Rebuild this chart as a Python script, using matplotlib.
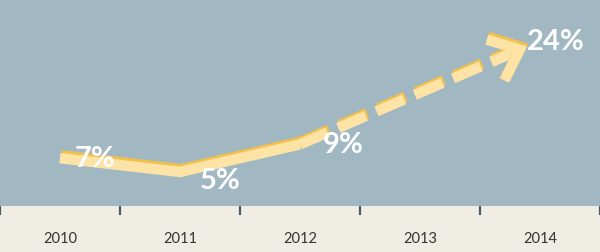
import matplotlib
matplotlib.use("Agg")
import matplotlib.pyplot as plt
import matplotlib.patheffects as pe

years = ["2010", "2011", "2012", "2013", "2014"]
actual_idx = [0, 1, 2]
actual_vals = [7, 5, 9]
target_idx = 4
target_val = 24
labels = ["7%", "5%", "9%", "24%"]

BLUE = "#a1b8c3"
BEIGE = "#efece4"
LIGHT = "#fde3a6"
DARK = "#f3c14a"
TICK = "#4b5e67"

fig = plt.figure(figsize=(6, 2.53), dpi=100, facecolor=BEIGE)
ax = fig.add_axes([0, 46 / 253, 1, 207 / 253])
ax.set_facecolor(BLUE)
for s in ax.spines.values():
    s.set_visible(False)
ax.set_xlim(-0.5, 4.5)
ax.set_ylim(0.07, 30.07)
ax.set_yticks([])

ax.set_xticks(range(len(years)))
ax.set_xticklabels(years, fontsize=10.5, color="#333333", family="Lato")
ax.tick_params(axis="x", which="major", length=0, pad=18)
ax.set_xticks([i - 0.5 for i in range(len(years) + 1)], minor=True)
ax.tick_params(axis="x", which="minor", length=6.5, width=1.6, color=TICK, direction="out")

shade = [pe.Stroke(offset=(0.8, 2.0), foreground=DARK), pe.Normal()]
LW = 7.5

ax.plot(actual_idx, actual_vals, color=LIGHT, lw=LW, solid_capstyle="butt",
        solid_joinstyle="miter", path_effects=shade, zorder=3)

# dashed forecast
ax.annotate("", xy=(target_idx, target_val), xytext=(actual_idx[-1], actual_vals[-1]),
            arrowprops=dict(arrowstyle="-", color=LIGHT, lw=LW, linestyle=(0, (2.9, 1.1)),
                            shrinkA=0, shrinkB=22, capstyle="butt",
                            path_effects=shade), zorder=3)
# arrow head
fx = actual_idx[-1] + (target_idx - actual_idx[-1]) * 0.8
fy = actual_vals[-1] + (target_val - actual_vals[-1]) * 0.8
ax.annotate("", xy=(target_idx, target_val), xytext=(fx, fy),
            arrowprops=dict(arrowstyle="->,head_length=0.95,head_width=0.8", color=LIGHT,
                            lw=LW, mutation_scale=20, shrinkA=0, shrinkB=10,
                            capstyle="butt", joinstyle="miter", path_effects=shade),
            zorder=3)

pts = list(zip(actual_idx, actual_vals)) + [(target_idx, target_val)]
offs = [(25, 0), (29, -6), (31, 0), (11, 0)]
for (x, y), lab, (dx, dy) in zip(pts, labels, offs):
    ax.annotate(lab, (x, y), xytext=(dx, dy), textcoords="offset points",
                ha="center", va="center", fontsize=21, color="white",
                fontweight="bold", family="Lato", zorder=5)

fig.savefig("out.png", dpi=100, facecolor=BEIGE)
